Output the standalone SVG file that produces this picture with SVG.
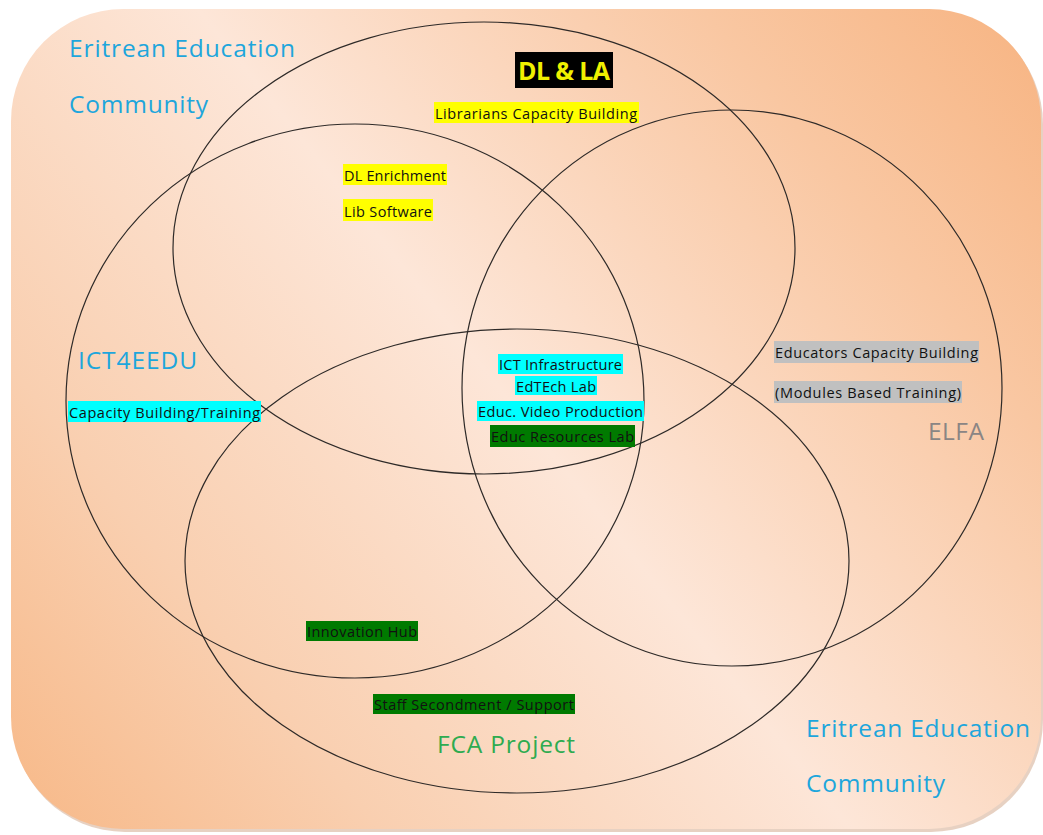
<svg xmlns="http://www.w3.org/2000/svg" width="1043" height="835" viewBox="0 0 1043 835">
<defs>
<linearGradient id="bg" gradientUnits="userSpaceOnUse" x1="1040" y1="10" x2="10" y2="830">
<stop offset="0" stop-color="#f7b482"/>
<stop offset="0.2" stop-color="#f9c7a2"/>
<stop offset="0.5" stop-color="#fde6d8"/>
<stop offset="0.78" stop-color="#f9cfb0"/>
<stop offset="1" stop-color="#f7b887"/>
</linearGradient>
</defs>
<style>
.ring{fill:none;stroke:#2e2a28;stroke-width:1.2}
.big{font-family:"Open Sans","Noto Sans",sans-serif;font-size:24.5px}
.blue{fill:#1ea6dc}
.sm{font-family:"Open Sans","Noto Sans",sans-serif;font-size:14.5px;fill:#111}
.hy{fill:#ffff00}
.hc{fill:#00ffff}
.hg{fill:#007a00}
.hs{fill:#c0c0c0}
</style>
<rect width="1043" height="835" fill="#ffffff"/>
<rect x="13" y="12" width="1030" height="820" rx="112" ry="112" fill="#c99a78" opacity="0.45"/>
<rect x="11" y="9" width="1030" height="820" rx="112" ry="112" fill="url(#bg)"/>

<g id="shapes">
<ellipse id="dl-la-ring" class="ring" cx="484" cy="248" rx="311" ry="226"/>
<ellipse id="ict4eedu-ring" class="ring" cx="355" cy="401" rx="289" ry="277"/>
<ellipse id="elfa-ring" class="ring" cx="732" cy="388" rx="270" ry="278"/>
<ellipse id="fca-ring" class="ring" cx="517" cy="561" rx="332" ry="232"/>
</g>

<g id="community-top">
<text class="big blue" x="69" y="57" textLength="226">Eritrean Education</text>
<text class="big blue" x="69" y="113" textLength="139">Community</text>
</g>

<g id="dl-la">
<rect x="515" y="52" width="98" height="36" fill="#000"/>
<text x="518" y="80" font-family="Open Sans, Noto Sans, sans-serif" font-size="25" font-weight="bold" fill="#f0f000" textLength="92">DL &amp; LA</text>
<rect class="hy" x="434" y="102" width="205" height="21"/>
<text class="sm" x="435" y="119" textLength="202">Librarians Capacity Building</text>
<rect class="hy" x="343" y="164" width="104" height="21"/>
<text class="sm" x="344" y="181" textLength="102">DL Enrichment</text>
<rect class="hy" x="343" y="199" width="90" height="22"/>
<text class="sm" x="344" y="217" textLength="88">Lib Software</text>
</g>

<g id="ict4eedu">
<text class="big blue" x="78" y="369" textLength="119">ICT4EEDU</text>
<rect class="hc" x="68" y="401" width="193" height="21"/>
<text class="sm" x="69" y="418" textLength="191">Capacity Building/Training</text>
</g>

<g id="center">
<rect class="hc" x="498" y="354" width="125" height="20"/>
<text class="sm" x="499" y="370" textLength="123">ICT Infrastructure</text>
<rect class="hc" x="515" y="376" width="82" height="19"/>
<text class="sm" x="516" y="392" textLength="80">EdTEch Lab</text>
<rect class="hc" x="477" y="401" width="167" height="20"/>
<text class="sm" x="478" y="417" textLength="165">Educ. Video Production</text>
<rect class="hg" x="490" y="425" width="145" height="22"/>
<text class="sm" x="491" y="442" textLength="143">Educ Resources Lab</text>
</g>

<g id="elfa">
<rect class="hs" x="774" y="341" width="205" height="22"/>
<text class="sm" x="775" y="358" textLength="203">Educators Capacity Building</text>
<rect class="hs" x="774" y="381" width="188" height="22"/>
<text class="sm" x="775" y="398" textLength="186">(Modules Based Training)</text>
<text class="big" x="928" y="440" fill="#8a8584" textLength="56">ELFA</text>
</g>

<g id="fca">
<rect class="hg" x="306" y="621" width="112" height="20"/>
<text class="sm" x="307" y="637" textLength="110">Innovation Hub</text>
<rect class="hg" x="373" y="694" width="202" height="20"/>
<text class="sm" x="374" y="710" textLength="200">Staff Secondment  / Support</text>
<text class="big" x="437" y="753" fill="#2eab50" textLength="138">FCA Project</text>
</g>

<g id="community-bottom">
<text class="big blue" x="806" y="737" textLength="224">Eritrean Education</text>
<text class="big blue" x="806" y="792" textLength="139">Community</text>
</g>
</svg>
